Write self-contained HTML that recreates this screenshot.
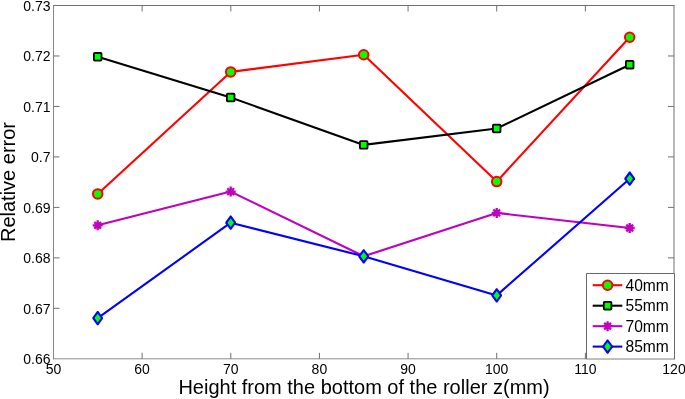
<!DOCTYPE html>
<html><head><meta charset="utf-8"><title>Relative error</title>
<style>
html,body{margin:0;padding:0;background:#fff;}
body{width:685px;height:399px;overflow:hidden;}
svg{display:block;font-family:"Liberation Sans",Arial,sans-serif;}
</style></head><body>
<svg width="685" height="399" viewBox="0 0 685 399">
<rect width="685" height="399" fill="#fff"/>
<path d="M53.0 5.5H674.5" stroke="#707070"/><path d="M53.5 5.5V359.3" stroke="#888"/><path d="M674.0 5.5V359.3" stroke="#707070"/><path d="M53.0 358.8H586" stroke="#8a8a8a"/>
<path d="M142.14 358.8v-6M142.14 5.5v6M230.79 358.8v-6M230.79 5.5v6M319.43 358.8v-6M319.43 5.5v6M408.07 358.8v-6M408.07 5.5v6M496.71 358.8v-6M496.71 5.5v6M585.36 358.8v-6M585.36 5.5v6M53.5 308.33h6M674.0 308.33h-6M53.5 257.86h6M674.0 257.86h-6M53.5 207.39h6M674.0 207.39h-6M53.5 156.91h6M674.0 156.91h-6M53.5 106.44h6M674.0 106.44h-6M53.5 55.97h6M674.0 55.97h-6" stroke="#707070" stroke-width="1" fill="none"/>
<g font-size="14" fill="#000">
<text x="53.5" y="374" text-anchor="middle">50</text>
<text x="142.1" y="374" text-anchor="middle">60</text>
<text x="230.8" y="374" text-anchor="middle">70</text>
<text x="319.4" y="374" text-anchor="middle">80</text>
<text x="408.1" y="374" text-anchor="middle">90</text>
<text x="496.7" y="374" text-anchor="middle">100</text>
<text x="585.4" y="374" text-anchor="middle">110</text>
<text x="674.0" y="374" text-anchor="middle">120</text>
<text x="50.5" y="364.1" text-anchor="end">0.66</text>
<text x="50.5" y="313.6" text-anchor="end">0.67</text>
<text x="50.5" y="263.2" text-anchor="end">0.68</text>
<text x="50.5" y="212.7" text-anchor="end">0.69</text>
<text x="50.5" y="162.2" text-anchor="end">0.7</text>
<text x="50.5" y="111.7" text-anchor="end">0.71</text>
<text x="50.5" y="61.3" text-anchor="end">0.72</text>
<text x="50.5" y="10.8" text-anchor="end">0.73</text>
</g>
<text x="364" y="394" font-size="20" text-anchor="middle" fill="#000">Height from the bottom of the roller z(mm)</text>
<text transform="translate(15.4,182) rotate(-90)" font-size="20" text-anchor="middle" fill="#000">Relative error</text>
<polyline points="97.7,193.9 230.7,71.9 363.7,54.7 496.7,181.6 629.7,37.2" fill="none" stroke="#ff0000" stroke-width="2.08" stroke-linejoin="round"/>
<circle cx="97.7" cy="193.9" r="4.75" fill="#00ff00" stroke="#ff0000" stroke-width="2"/>
<circle cx="230.7" cy="71.9" r="4.75" fill="#00ff00" stroke="#ff0000" stroke-width="2"/>
<circle cx="363.7" cy="54.7" r="4.75" fill="#00ff00" stroke="#ff0000" stroke-width="2"/>
<circle cx="496.7" cy="181.6" r="4.75" fill="#00ff00" stroke="#ff0000" stroke-width="2"/>
<circle cx="629.7" cy="37.2" r="4.75" fill="#00ff00" stroke="#ff0000" stroke-width="2"/>
<polyline points="97.7,56.8 230.7,97.5 363.7,144.9 496.7,128.5 629.7,64.7" fill="none" stroke="#000000" stroke-width="2.08" stroke-linejoin="round"/>
<rect x="93.00" y="52.10" width="9.4" height="9.4" rx="1.7" fill="#000000"/><rect x="94.80" y="53.90" width="5.8" height="5.8" fill="#00ff00"/>
<rect x="226.00" y="92.80" width="9.4" height="9.4" rx="1.7" fill="#000000"/><rect x="227.80" y="94.60" width="5.8" height="5.8" fill="#00ff00"/>
<rect x="359.00" y="140.20" width="9.4" height="9.4" rx="1.7" fill="#000000"/><rect x="360.80" y="142.00" width="5.8" height="5.8" fill="#00ff00"/>
<rect x="492.00" y="123.80" width="9.4" height="9.4" rx="1.7" fill="#000000"/><rect x="493.80" y="125.60" width="5.8" height="5.8" fill="#00ff00"/>
<rect x="625.00" y="60.00" width="9.4" height="9.4" rx="1.7" fill="#000000"/><rect x="626.80" y="61.80" width="5.8" height="5.8" fill="#00ff00"/>
<polyline points="97.7,225.3 230.7,191.6 363.7,256.3 496.7,212.9 629.7,228.0" fill="none" stroke="#bf00bf" stroke-width="2.08" stroke-linejoin="round"/>
<path d="M92.70 225.30L102.70 225.30M94.34 221.94L101.06 228.66M97.70 220.30L97.70 230.30M101.06 221.94L94.34 228.66" fill="none" stroke="#bf00bf" stroke-width="2.3"/>
<path d="M225.70 191.60L235.70 191.60M227.34 188.24L234.06 194.96M230.70 186.60L230.70 196.60M234.06 188.24L227.34 194.96" fill="none" stroke="#bf00bf" stroke-width="2.3"/>
<path d="M358.70 256.30L368.70 256.30M360.34 252.94L367.06 259.66M363.70 251.30L363.70 261.30M367.06 252.94L360.34 259.66" fill="none" stroke="#bf00bf" stroke-width="2.3"/>
<path d="M491.70 212.90L501.70 212.90M493.34 209.54L500.06 216.26M496.70 207.90L496.70 217.90M500.06 209.54L493.34 216.26" fill="none" stroke="#bf00bf" stroke-width="2.3"/>
<path d="M624.70 228.00L634.70 228.00M626.34 224.64L633.06 231.36M629.70 223.00L629.70 233.00M633.06 224.64L626.34 231.36" fill="none" stroke="#bf00bf" stroke-width="2.3"/>
<polyline points="97.7,318.1 230.7,222.7 363.7,256.3 496.7,295.4 629.7,178.7" fill="none" stroke="#0000ff" stroke-width="2.08" stroke-linejoin="round"/>
<path d="M97.10 311.00L98.30 311.00L103.00 317.50L103.00 318.70L98.30 325.20L97.10 325.20L92.40 318.70L92.40 317.50Z" fill="#0000ff"/><path d="M97.70 313.80L100.95 318.10L97.70 322.40L94.45 318.10Z" fill="#00ff00"/>
<path d="M230.10 215.60L231.30 215.60L236.00 222.10L236.00 223.30L231.30 229.80L230.10 229.80L225.40 223.30L225.40 222.10Z" fill="#0000ff"/><path d="M230.70 218.40L233.95 222.70L230.70 227.00L227.45 222.70Z" fill="#00ff00"/>
<path d="M363.10 249.20L364.30 249.20L369.00 255.70L369.00 256.90L364.30 263.40L363.10 263.40L358.40 256.90L358.40 255.70Z" fill="#0000ff"/><path d="M363.70 252.00L366.95 256.30L363.70 260.60L360.45 256.30Z" fill="#00ff00"/>
<path d="M496.10 288.30L497.30 288.30L502.00 294.80L502.00 296.00L497.30 302.50L496.10 302.50L491.40 296.00L491.40 294.80Z" fill="#0000ff"/><path d="M496.70 291.10L499.95 295.40L496.70 299.70L493.45 295.40Z" fill="#00ff00"/>
<path d="M629.10 171.60L630.30 171.60L635.00 178.10L635.00 179.30L630.30 185.80L629.10 185.80L624.40 179.30L624.40 178.10Z" fill="#0000ff"/><path d="M629.70 174.40L632.95 178.70L629.70 183.00L626.45 178.70Z" fill="#00ff00"/>
<rect x="586.5" y="273.5" width="88.0" height="85.5" fill="#fff"/><path d="M586.5 359.0V273.5H674.5V359.0" fill="none" stroke="#686868"/><path d="M586.0 359.0H675.0" stroke="#808080"/>
<path d="M592.7 285.2H622.3" stroke="#ff0000" stroke-width="2.08"/>
<circle cx="607.6" cy="285.2" r="4.75" fill="#00ff00" stroke="#ff0000" stroke-width="2"/>
<text x="625.5" y="290.5" font-size="15.6" fill="#000">40mm</text>
<path d="M592.7 305.7H622.3" stroke="#000000" stroke-width="2.08"/>
<rect x="602.90" y="301.00" width="9.4" height="9.4" rx="1.7" fill="#000000"/><rect x="604.70" y="302.80" width="5.8" height="5.8" fill="#00ff00"/>
<text x="625.5" y="311.0" font-size="15.6" fill="#000">55mm</text>
<path d="M592.7 326.2H622.3" stroke="#bf00bf" stroke-width="2.08"/>
<path d="M602.60 326.20L612.60 326.20M604.24 322.84L610.96 329.56M607.60 321.20L607.60 331.20M610.96 322.84L604.24 329.56" fill="none" stroke="#bf00bf" stroke-width="2.3"/>
<text x="625.5" y="331.5" font-size="15.6" fill="#000">70mm</text>
<path d="M592.7 346.6H622.3" stroke="#0000ff" stroke-width="2.08"/>
<path d="M607.00 339.50L608.20 339.50L612.90 346.00L612.90 347.20L608.20 353.70L607.00 353.70L602.30 347.20L602.30 346.00Z" fill="#0000ff"/><path d="M607.60 342.30L610.85 346.60L607.60 350.90L604.35 346.60Z" fill="#00ff00"/>
<text x="625.5" y="351.9" font-size="15.6" fill="#000">85mm</text>
</svg></body></html>
